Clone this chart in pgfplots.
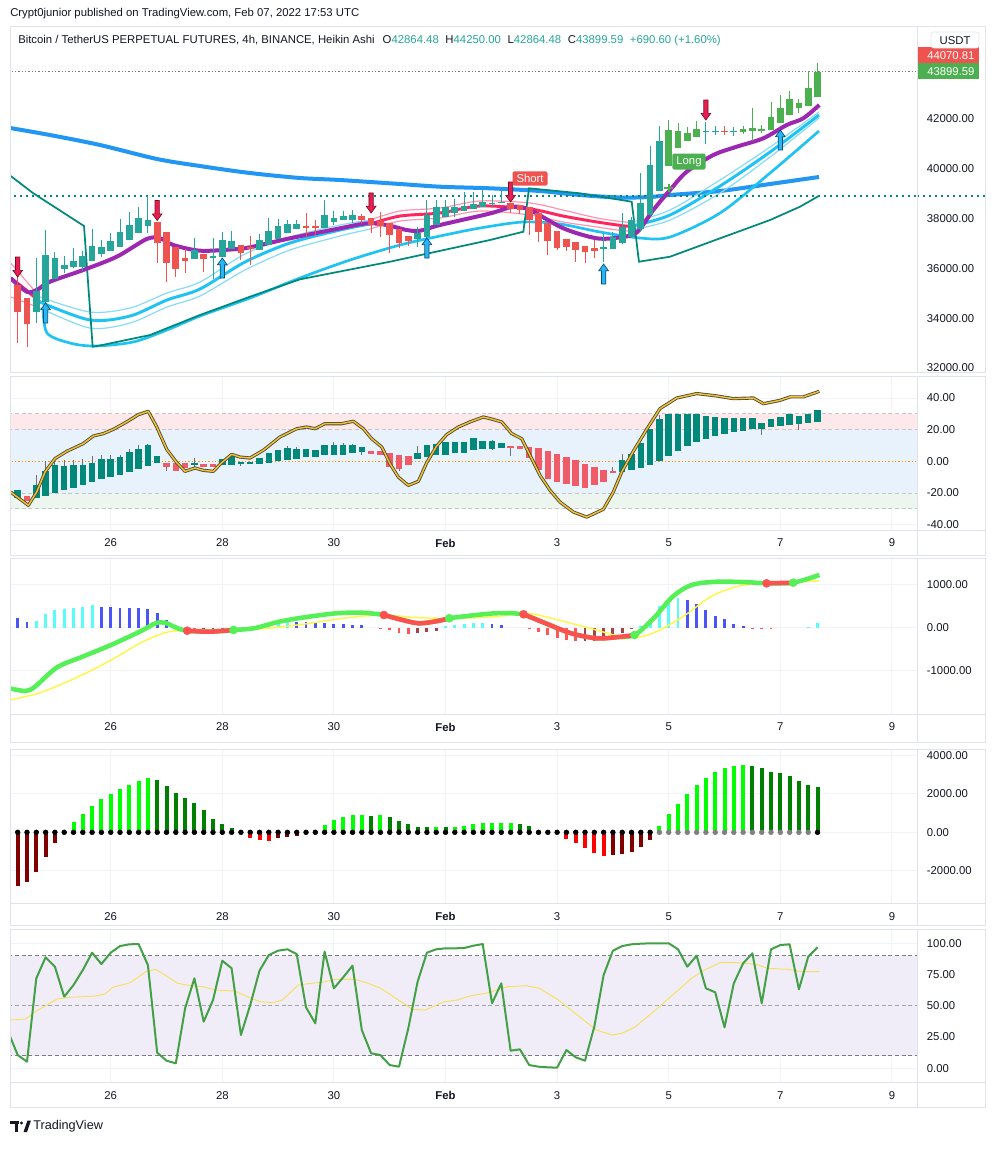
\documentclass[border=0pt]{standalone}
\usepackage{fontspec}
\setmainfont{Liberation Sans}
\usepackage{pgfplots}
\usepackage{pgfplotstable}
\pgfplotsset{compat=1.18}
\usepgfplotslibrary{fillbetween}

\definecolor{cTeal}{HTML}{26A69A}
\definecolor{cGreen}{HTML}{4CAF50}
\definecolor{cRed}{HTML}{EF5350}
\definecolor{cTealD}{HTML}{00897B}
\definecolor{cRedP}{HTML}{EF5B67}
\definecolor{cWick}{HTML}{707070}
\definecolor{cBlue}{HTML}{2196F3}
\definecolor{cPurple}{HTML}{9C27B0}
\definecolor{cCyan}{HTML}{1EC3F3}
\definecolor{cCyanL}{HTML}{86DCF7}
\definecolor{cCyanF}{HTML}{DDF5FD}
\definecolor{cPink}{HTML}{FF2660}
\definecolor{cPinkL}{HTML}{FF94B0}
\definecolor{cPinkF}{HTML}{FFE0E8}
\definecolor{cStep}{HTML}{00897B}
\definecolor{cGrid}{HTML}{F0F3FA}
\definecolor{cBorder}{HTML}{E0E3EB}
\definecolor{cText}{HTML}{131722}
\definecolor{cArrR}{HTML}{E91E50}
\definecolor{cArrRd}{HTML}{7A0A25}
\definecolor{cArrB}{HTML}{29B6F6}
\definecolor{cArrBd}{HTML}{0A4F73}
\definecolor{cBandR}{HTML}{FDE9EA}
\definecolor{cBandB}{HTML}{E7F2FC}
\definecolor{cBandG}{HTML}{EDF6EE}
\definecolor{cDash}{HTML}{C3C6CC}
\definecolor{cOrange}{HTML}{FF9800}
\definecolor{cWave}{HTML}{F2C230}
\definecolor{cWaveD}{HTML}{4D4A3A}
\definecolor{cHBlue}{HTML}{4B55F7}
\definecolor{cHCyan}{HTML}{5CFBFB}
\definecolor{cHRed}{HTML}{FF5656}
\definecolor{cHRedD}{HTML}{A8424A}
\definecolor{cLineG}{HTML}{55F055}
\definecolor{cLineR}{HTML}{FF5050}
\definecolor{cLineY}{HTML}{FFF64A}
\definecolor{cLime}{HTML}{00FF00}
\definecolor{cDGreen}{HTML}{008000}
\definecolor{cBRed}{HTML}{FF0000}
\definecolor{cDRed}{HTML}{800000}
\definecolor{cLav}{HTML}{F1EDF8}
\definecolor{cDashD}{HTML}{787B86}
\definecolor{cSto}{HTML}{43A047}
\definecolor{cStoY}{HTML}{F7DF5A}

\pgfdeclareplotmark{sigdn}{%
  \pgfpathmoveto{\pgfqpoint{-1.6pt}{7.5pt}}%
  \pgfpathlineto{\pgfqpoint{1.6pt}{7.5pt}}%
  \pgfpathlineto{\pgfqpoint{1.6pt}{-2.5pt}}%
  \pgfpathlineto{\pgfqpoint{3.6pt}{-2.5pt}}%
  \pgfpathlineto{\pgfqpoint{0pt}{-7.5pt}}%
  \pgfpathlineto{\pgfqpoint{-3.6pt}{-2.5pt}}%
  \pgfpathlineto{\pgfqpoint{-1.6pt}{-2.5pt}}%
  \pgfpathclose\pgfusepathqfillstroke}
\pgfdeclareplotmark{sigup}{%
  \pgfpathmoveto{\pgfqpoint{-1.6pt}{-7.5pt}}%
  \pgfpathlineto{\pgfqpoint{1.6pt}{-7.5pt}}%
  \pgfpathlineto{\pgfqpoint{1.6pt}{2.5pt}}%
  \pgfpathlineto{\pgfqpoint{3.6pt}{2.5pt}}%
  \pgfpathlineto{\pgfqpoint{0pt}{7.5pt}}%
  \pgfpathlineto{\pgfqpoint{-3.6pt}{2.5pt}}%
  \pgfpathlineto{\pgfqpoint{-1.6pt}{2.5pt}}%
  \pgfpathclose\pgfusepathqfillstroke}

\newcommand\tl{\fontsize{8.5}{10}\selectfont}

\pgfplotsset{
  pane/.style={
    scale only axis, width=679.95pt, anchor=north west,
    xmin=-0.753, xmax=96.73,
    axis line style={draw=none},
    xtick={10,22,34,46,58,70,82,94},
    xticklabels={26,28,30,\textbf{Feb},3,5,7,9},
    grid=major,
    major grid style={draw=cGrid, line width=0.75pt},
    major tick length=0pt,
    scaled ticks=false,
    yticklabel pos=right,
    tick label style={font=\tl, text=cText},
    yticklabel style={anchor=west, inner sep=0pt, xshift=7pt,
      /pgf/number format/fixed, /pgf/number format/fixed zerofill,
      /pgf/number format/precision=2, /pgf/number format/1000 sep={},
      /pgf/number format/assume math mode=true},
    xticklabel style={anchor=north, inner sep=0pt, yshift=-6.5pt},
  },
  candle/.style={only marks, mark=*, mark size=0pt,
    mark options={draw=none, fill=none, draw opacity=0, fill opacity=0},
    forget plot,
    /pgfplots/error bars/y dir=both, /pgfplots/error bars/y explicit,
    /pgfplots/error bars/error mark=none},
}

% main Heikin Ashi candles: i open high low close class(0 red,1 teal,2 green)
\pgfplotstableread{
i o h l c k
0 35330 35670 33020 34260 0
1 34800 34800 32850 33760 0
2 34260 36410 33800 35090 1
3 34660 37540 34460 36540 1
4 35570 36670 35570 36430 1
5 35980 36500 35800 36140 1
6 36070 36810 36000 36300 1
7 36040 36700 35900 36500 1
8 36310 37570 36310 36900 1
9 36580 37140 36450 36850 1
10 36710 37410 36710 37100 1
11 36850 37970 36850 37470 1
12 37140 38280 37140 37740 1
13 37430 38480 37430 38010 1
14 37720 38910 37410 37940 1
15 37860 37860 36230 37010 0
16 37460 37460 35470 36210 0
17 36850 36850 35670 35960 0
18 36410 36770 35800 36310 0
19 36370 37210 36370 36740 1
20 36580 36580 35870 36370 0
21 36450 37210 35560 36500 1
22 36470 37470 36470 37140 1
23 36770 37500 36770 37100 1
24 36940 36940 36340 36610 0
25 36850 37300 36140 36780 0
26 36740 37380 36740 37140 1
27 36940 38010 36940 37500 1
28 37180 37970 37180 37700 1
29 37430 37940 37430 37780 1
30 37570 37940 37570 37780 1
31 37700 38240 37280 37660 0
32 37700 37940 37340 37640 0
33 37640 38750 37640 38150 1
34 37880 38310 37740 38040 1
35 37940 38310 37940 38110 1
36 37940 38350 37840 38150 1
37 38110 38200 37800 37940 0
38 38010 38010 37430 37740 0
39 37900 38280 37250 37720 0
40 37810 37810 36630 37340 0
41 37580 37580 36810 37010 0
42 37300 37300 36910 37110 0
43 37180 37680 36850 37430 1
44 37280 38750 37200 38150 1
45 37740 38750 37740 38450 1
46 38050 38750 38050 38450 1
47 38240 38780 38080 38480 1
48 38320 39080 38320 38510 1
49 38370 39080 38370 38570 1
50 38480 39220 38480 38680 1
51 38590 38950 38450 38640 1
52 38620 39100 38620 38680 1
53 38610 38610 38210 38370 0
54 38550 38550 38200 38350 0
55 38480 38480 37340 37940 0
56 38210 38210 37070 37470 0
57 37810 37810 36540 37110 0
58 37520 37520 36740 36810 0
59 37180 37180 36700 36850 0
60 37070 37070 36270 36740 0
61 36900 36900 36230 36670 0
62 36810 37140 36410 36710 0
63 36770 37380 36270 36850 1
64 36770 37470 36770 37250 1
65 37030 38210 37000 37680 1
66 37270 38080 37270 37940 1
67 37570 39820 37470 38640 1
68 38150 40920 38150 40150 1
69 39120 41720 39120 41120 1
70 40110 41960 40110 41560 2
71 40820 41830 40820 41520 2
72 41130 41670 41130 41430 2
73 41290 41920 41290 41590 2
74 41480 41890 41000 41520 1
75 41480 41720 41360 41520 1
76 41530 41720 41360 41480 0
77 41480 41670 41330 41520 1
78 41490 41720 41410 41600 2
79 41530 42430 41130 41630 2
80 41520 41760 41450 41590 2
81 41560 42680 41560 42070 2
82 41830 42960 41830 42430 2
83 42150 43120 42150 42790 2
84 42450 42790 42250 42630 2
85 42530 43930 42530 43230 2
86 42864.48 44250 42864.48 43899.59 2
}\mainC

% oscillator candles (pane 2): i open close high low class(0 red,1 teal)
\pgfplotstableread{
i o c h l k
0 -23 -18 -18 -23 1
1 -22 -25.3 -22 -25.3 0
2 -23 -15 -8.4 -23 1
3 -22 -6 0 -22 1
4 -20 -2 1 -20 1
5 -18 -3 0.6 -18 1
6 -17 -2.5 0.6 -17 1
7 -14.7 -2.1 1.7 -14.7 1
8 -13 -0.8 3.4 -13 1
9 -11.4 1.3 3.8 -11.4 1
10 -9.9 1.3 4.2 -9.9 1
11 -8.4 2.7 4.2 -8.4 1
12 -6.7 5.9 8 -6.7 1
13 -5.1 8 10.1 -5.1 1
14 -2.9 10.1 11.2 -2.9 1
15 -0.8 3.4 3.4 -0.8 1
16 -0.8 -3.6 -0.8 -6.3 0
17 -0.8 -6.1 -0.8 -6.1 0
18 -1.3 -4.2 -1.3 -4.2 0
19 -2.1 -1.3 2 -3.5 1
20 -1.9 -3.6 -1.9 -3.6 0
21 -1.9 -3.6 -1.9 -3.6 0
22 -2.5 1.7 1.7 -2.5 1
23 -2.1 3.8 3.8 -2.1 1
24 -1.5 -0.4 -0.4 -3 1
25 -1.9 -0.4 -0.4 -1.9 1
26 -1.7 2.1 2.1 -1.7 1
27 -0.8 5.5 5.5 -0.8 1
28 0 7 7 0 1
29 0.6 8.4 9.5 0.6 1
30 1.7 8 9 1.7 1
31 2.7 7.6 7.6 2.7 1
32 2.7 7 7 2.7 1
33 3.8 10.1 10.5 3.8 1
34 3.8 10.1 12.2 3.8 1
35 4.2 10.1 11.8 4.2 1
36 5.5 10.1 11 5.5 1
37 5.9 9.1 9.1 3.8 1
38 6.3 4.8 6.3 4.8 0
39 6.3 3.8 6.3 3.8 0
40 5.5 -3.6 5.5 -3.6 0
41 4.2 -5.1 4.2 -6.3 0
42 3.4 -2.1 3.4 -2.1 0
43 1.7 5.5 9.7 1.7 1
44 2.7 10.1 10.1 2.7 1
45 3.8 11.2 11.2 3.8 1
46 4.2 12.2 12.2 4.2 1
47 5.5 12.2 12.2 5.5 1
48 5.5 12.2 12.2 5.5 1
49 7 14.7 14.7 7 1
50 8 12.6 12.6 8 1
51 8 12.6 13.5 7 1
52 8.4 11.8 11.8 8.4 1
53 9.7 8.6 9.7 3.6 0
54 9.7 7.6 9.7 7.6 0
55 9.1 2.1 9.1 2.1 0
56 8.4 -5.7 8.4 -5.7 0
57 6.3 -11 6.3 -11 0
58 4.4 -13 4.4 -13 0
59 2.5 -14.1 2.5 -14.1 0
60 0.6 -15.6 0.6 -15.6 0
61 -1.9 -16.9 -1.9 -16.9 0
62 -3.6 -15.2 -3.6 -15.2 0
63 -5.3 -13 -5.3 -13 0
64 -5.9 -7.4 -3.5 -7.4 0
65 -6.7 0.6 4.8 -6.7 1
66 -5.7 4.4 4.4 -5.7 1
67 -4.2 11.6 11.6 -4.2 1
68 -2.5 20.2 20.2 -2.5 1
69 0 26.5 29 0 1
70 3.2 29.7 29.7 3.2 1
71 6.3 29.7 29.7 6.3 1
72 9.5 29.7 29.7 9.5 1
73 12.2 29.7 30 12.2 1
74 13.9 28.6 28.6 13.9 1
75 15.8 28 28 15.8 1
76 17.1 27.4 27.4 17.1 1
77 18.5 27.4 27.4 18.5 1
78 19.2 27.4 27.4 19.2 1
79 20.2 27.4 27.4 20.2 1
80 20.6 24.4 24.4 16.4 1
81 21.7 26.5 26.5 21.7 1
82 22.3 28 28 22.3 1
83 23.2 30.1 30.1 23.2 1
84 23.8 28.4 28.4 19.6 1
85 24.4 29.7 29.7 24.4 1
86 24.9 32.2 32.2 24.9 1
}\pTwo

% histogram pane 3: i value class(0 blue,1 cyan,2 red,3 dark red)
\pgfplotstableread{
i v k
0 233 0
1 122 0
2 155 1
3 310 1
4 410 1
5 426 1
6 465 1
7 488 1
8 527 1
9 488 0
10 488 0
11 465 0
12 465 0
13 450 0
14 434 0
15 349 0
16 178 0
17 62 0
18 -60 2
19 -80 2
20 -70 3
21 -60 3
22 -30 3
27 40 1
28 160 1
29 155 1
30 140 0
31 130 0
32 120 0
33 110 0
34 90 0
35 80 0
36 70 0
37 60 0
39 -20 2
40 -60 2
41 -120 2
42 -150 2
43 -130 3
44 -100 3
45 -80 3
46 50 1
47 70 1
48 90 1
49 100 1
50 110 1
51 80 0
52 60 0
55 -30 2
56 -100 2
57 -180 2
58 -250 2
59 -280 2
60 -300 2
61 -320 3
62 -300 3
63 -270 3
64 -220 3
65 -120 3
66 -40 3
67 30 1
68 200 1
69 500 1
70 650 1
71 680 1
72 640 0
73 560 0
74 420 0
75 280 0
76 200 0
77 80 0
78 30 0
79 -20 2
80 -20 2
81 -20 2
85 20 1
86 120 1
}\pThree

% pane 4: i value class(0 lime,1 dark green,2 red,3 dark red) dot(0 black,1 gray)
\pgfplotstableread{
i v k d
-0.9 -3034 3 0
0 -2774 3 0
1 -2566 3 0
2 -2047 3 0
3 -1299 3 0
4 -572 3 0
5 0 0 0
6 553 0 0
7 951 0 0
8 1367 0 0
9 1731 0 0
10 1991 0 0
11 2250 0 0
12 2458 0 0
13 2683 0 0
14 2821 0 0
15 2718 1 0
16 2406 1 0
17 2060 1 0
18 1766 1 0
19 1541 1 0
20 1160 1 0
21 692 1 0
22 432 1 0
23 208 1 0
24 0 1 0
25 -277 2 0
26 -398 2 0
27 -433 2 0
28 -312 3 0
29 -260 3 0
30 -190 3 0
31 0 0 0
32 121 0 0
33 381 0 0
34 641 0 0
35 814 0 0
36 900 0 0
37 925 0 0
38 860 1 0
39 910 0 0
40 780 1 0
41 606 1 0
42 433 1 0
43 300 1 0
44 290 1 0
45 295 0 0
46 260 1 0
47 295 0 0
48 346 0 0
49 415 0 0
50 467 0 0
51 470 0 0
52 502 0 0
53 505 0 0
54 433 1 0
55 329 1 0
56 0 1 0
57 0 1 0
58 -87 2 0
59 -346 2 0
60 -537 2 0
61 -796 2 0
62 -1056 2 0
63 -1212 2 0
64 -1200 3 0
65 -1143 3 0
66 -1004 3 0
67 -745 3 0
68 -398 3 0
69 329 0 1
70 951 0 1
71 1471 0 1
72 1991 0 1
73 2458 0 1
74 2804 0 1
75 3116 0 1
76 3324 0 1
77 3462 0 1
78 3497 0 1
79 3462 1 1
80 3324 1 1
81 3151 1 1
82 3064 1 1
83 2925 1 1
84 2683 1 1
85 2458 1 1
86 2337 1 0
}\pFour

\begin{document}
\begin{tikzpicture}
\fill[white] (0pt,0pt) rectangle (744pt,-870pt);

%================ MAIN PANE =================
\begin{axis}[pane, at={(8.025pt,-19.5pt)}, height=259.5pt,
  ymin=31840, ymax=45735, ytick={32000,34000,36000,38000,40000,42000},
  xticklabels={}, clip mode=individual]
% blue long MA
\addplot[cBlue, line width=3pt, smooth] coordinates {(-0.83,41639)(3.47,41357)(8.85,40956)(14.98,40394)(19.6,40112)(24.98,39831)(30.35,39631)(34.65,39550)(41.1,39390)(45.4,39281)(50.78,39217)(56.16,39108)(60.46,38948)(64.76,38847)(67.99,38868)(70.14,38948)(75.52,39108)(80.9,39390)(86.16,39671)};
% lower cyan line
\addplot[cCyan, line width=2pt, smooth] coordinates {(2.72,34450)(3.15,33406)(5.62,33004)(8.31,32884)(12.4,33044)(16.05,33526)(19.6,34088)(24.98,34811)(30.35,35614)(35.73,36337)(41.1,36940)(45.41,37301)(49.71,37622)(54.34,37864)(58.31,37783)(62.61,37462)(66.91,37221)(70.14,37261)(75.52,38225)(80.9,39831)(86.16,41518)};
% ribbon left (red)
\addplot[name path=rT0, cPinkL, line width=0.9pt] coordinates {(-0.75,36217)(2.4,34851)};
\addplot[name path=rB0, cPinkL, line width=0.9pt] coordinates {(-0.75,34852)(2.4,34410)};
\addplot[cPinkF] fill between[of=rT0 and rB0];
\addplot[cPink, line width=2.2pt, smooth] coordinates {(-0.75,35615)(0.78,35173)(2.4,34651)};
% ribbon cyan mid
\addplot[name path=cT1, cCyanL, line width=0.9pt, smooth] coordinates {(2.4,34851)(7.77,34249)(12.08,34410)(16.05,35012)(19.6,35454)(24.44,36578)(29.28,37261)(34.66,37743)(37.88,37944)};
\addplot[name path=cB1, cCyanL, line width=0.9pt, smooth] coordinates {(2.4,34410)(7.77,33606)(12.08,33807)(16.05,34450)(19.6,34892)(24.44,35936)(29.28,36739)(34.66,37301)(37.88,37582)};
\addplot[cCyanF] fill between[of=cT1 and cB1];
\addplot[cCyan, line width=2.2pt, smooth] coordinates {(2.4,34651)(7.77,33928)(12.08,34088)(16.05,34731)(19.6,35173)(24.44,36257)(29.28,37020)(34.66,37542)(37.88,37783)};
% ribbon red mid
\addplot[name path=rT1, cPinkL, line width=0.9pt, smooth] coordinates {(37.88,37944)(41.11,38305)(45.4,38426)(49.71,38707)(55.09,38626)(58.63,38345)(62.29,38024)(65.3,37864)(66.05,37864)};
\addplot[name path=rB1, cPinkL, line width=0.9pt, smooth] coordinates {(37.88,37582)(41.11,37904)(45.4,38024)(49.71,38305)(55.09,38145)(58.63,37864)(62.29,37663)(65.3,37502)(66.05,37542)};
\addplot[cPinkF] fill between[of=rT1 and rB1];
\addplot[cPink, line width=2.2pt, smooth] coordinates {(37.88,37783)(41.11,38104)(45.4,38225)(49.71,38506)(55.09,38386)(58.63,38104)(62.29,37864)(65.3,37703)(66.05,37703)};
% ribbon cyan right
\addplot[name path=cT2, cCyanL, line width=0.9pt, smooth] coordinates {(66.05,37864)(70.14,38345)(75.52,39550)(80.9,40876)(86.16,42281)};
\addplot[name path=cB2, cCyanL, line width=0.9pt, smooth] coordinates {(66.05,37542)(70.14,37944)(75.52,39028)(80.9,40474)(86.16,42040)};
\addplot[cCyanF] fill between[of=cT2 and cB2];
\addplot[cCyan, line width=2.2pt, smooth] coordinates {(66.05,37703)(70.14,38145)(75.52,39309)(80.9,40675)(86.16,42161)};
% trailing step line
\addplot[cStep, line width=1.3pt] coordinates {(-0.75,39711)(1.68,39016)(7.13,37703)(8.06,32856)(8.85,32904)(14.23,33325)(19.6,34129)(24.98,34864)(30.35,35562)(40.03,36269)(50.78,37141)(54.37,37474)(54.98,39217)(60.46,39016)(66.02,38679)(66.8,36269)(70.14,36470)(75.52,37209)(80.9,37944)(84.12,38478)(86.13,38908)};
% purple MA
\addplot[cPurple, line width=3pt, smooth] coordinates {(-0.75,35603)(0.97,35064)(2.04,35133)(3.47,35466)(7.05,35936)(10.65,36470)(13.87,37181)(15.3,37209)(16.73,36940)(19.6,36711)(23.18,36767)(24.98,36848)(29.28,37209)(34.65,37610)(37.53,37811)(39.68,37743)(41.83,37542)(43.26,37514)(45.41,37743)(50.78,38205)(53.29,38478)(55.09,38346)(58.67,37610)(62.26,37209)(64.76,37249)(66.56,37442)(68.34,38345)(70.14,39149)(71.94,39884)(74.8,40554)(77.31,40888)(80.17,41225)(82.69,41759)(84.47,42028)(86.19,42562)};
% horizontal dotted levels
\addplot[cStep, line width=1.5pt, dash pattern=on 1.5pt off 3pt] coordinates {(-1,38920)(97,38920)};
\addplot[cDashD, line width=0.6pt, dash pattern=on 1pt off 1.5pt] coordinates {(-1,43899.59)(97,43899.59)};
% candles: wicks then bodies
\addplot[candle, /pgfplots/error bars/error bar style={line width=0.75pt, draw=cRed}, restrict expr to domain={\thisrow{k}}{0:0}] table[x=i, y expr={(\thisrow{h}+\thisrow{l})/2}, y error expr={(\thisrow{h}-\thisrow{l})/2}] {\mainC};
\addplot[candle, /pgfplots/error bars/error bar style={line width=0.75pt, draw=cTeal}, restrict expr to domain={\thisrow{k}}{1:1}] table[x=i, y expr={(\thisrow{h}+\thisrow{l})/2}, y error expr={(\thisrow{h}-\thisrow{l})/2}] {\mainC};
\addplot[candle, /pgfplots/error bars/error bar style={line width=0.75pt, draw=cGreen}, restrict expr to domain={\thisrow{k}}{2:2}] table[x=i, y expr={(\thisrow{h}+\thisrow{l})/2}, y error expr={(\thisrow{h}-\thisrow{l})/2}] {\mainC};
\addplot[candle, /pgfplots/error bars/error bar style={line width=5pt, draw=cRed}, restrict expr to domain={\thisrow{k}}{0:0}] table[x=i, y expr={(\thisrow{o}+\thisrow{c})/2}, y error expr={max(abs(\thisrow{c}-\thisrow{o})/2,30)}] {\mainC};
\addplot[candle, /pgfplots/error bars/error bar style={line width=5pt, draw=cTeal}, restrict expr to domain={\thisrow{k}}{1:1}] table[x=i, y expr={(\thisrow{o}+\thisrow{c})/2}, y error expr={max(abs(\thisrow{c}-\thisrow{o})/2,30)}] {\mainC};
\addplot[candle, /pgfplots/error bars/error bar style={line width=5pt, draw=cGreen}, restrict expr to domain={\thisrow{k}}{2:2}] table[x=i, y expr={(\thisrow{o}+\thisrow{c})/2}, y error expr={max(abs(\thisrow{c}-\thisrow{o})/2,30)}] {\mainC};
% signals
\addplot[only marks, mark=sigdn, mark options={fill=cArrR, draw=cArrRd, line width=0.5pt}] coordinates {(0,36056)(15,38325)(38,38627)(53,39068)(74,42361)};
\addplot[only marks, mark=sigup, mark options={fill=cArrB, draw=cArrBd, line width=0.5pt}] coordinates {(3,34209)(22,36016)(44,36819)(63,35775)(82,41157)};
\addplot[only marks, mark=+, mark size=3.2pt, mark options={line width=1.8pt, draw=cGreen}] coordinates {(70,39229)};
\node[fill=cRed, text=white, rounded corners=1.5pt, inner xsep=3pt, inner ysep=2.2pt, font=\tl] at (axis cs:55.09,39610) {Short};
\node[fill=cGreen, text=white, rounded corners=1.5pt, inner xsep=3pt, inner ysep=2.2pt, font=\tl] at (axis cs:72.18,40293) {Long};
\end{axis}

%================ PANE 2 =================
\begin{axis}[pane, at={(8.025pt,-282.75pt)}, height=114.75pt,
  ymin=-43.37, ymax=53.26, ytick={-40,-20,0,20,40}]
\addplot[draw=none, fill=cBandR, forget plot] coordinates {(-1,20)(97,20)(97,30)(-1,30)} -- cycle;
\addplot[draw=none, fill=cBandB, forget plot] coordinates {(-1,-20)(97,-20)(97,20)(-1,20)} -- cycle;
\addplot[draw=none, fill=cBandG, forget plot] coordinates {(-1,-30)(97,-30)(97,-20)(-1,-20)} -- cycle;
\addplot[cDash, line width=0.75pt, dash pattern=on 3pt off 2pt] coordinates {(-1,30)(97,30)};
\addplot[cDash, line width=0.75pt, dash pattern=on 3pt off 2pt] coordinates {(-1,20)(97,20)};
\addplot[cDash, line width=0.75pt, dash pattern=on 3pt off 2pt] coordinates {(-1,-20)(97,-20)};
\addplot[cDash, line width=0.75pt, dash pattern=on 3pt off 2pt] coordinates {(-1,-30)(97,-30)};
\addplot[cOrange, line width=0.75pt, dash pattern=on 1pt off 1.5pt] coordinates {(-1,0)(97,0)};
\addplot[candle, /pgfplots/error bars/error bar style={line width=0.75pt, draw=cWick}] table[x=i, y expr={(\thisrow{h}+\thisrow{l})/2}, y error expr={(\thisrow{h}-\thisrow{l})/2}] {\pTwo};
\addplot[candle, /pgfplots/error bars/error bar style={line width=4.9pt, draw=cRedP}, restrict expr to domain={\thisrow{k}}{0:0}] table[x=i, y expr={(\thisrow{o}+\thisrow{c})/2}, y error expr={max(abs(\thisrow{c}-\thisrow{o})/2,0.5)}] {\pTwo};
\addplot[candle, /pgfplots/error bars/error bar style={line width=4.9pt, draw=cTealD}, restrict expr to domain={\thisrow{k}}{1:1}] table[x=i, y expr={(\thisrow{o}+\thisrow{c})/2}, y error expr={max(abs(\thisrow{c}-\thisrow{o})/2,0.5)}] {\pTwo};
\addplot[cWaveD, line width=2.4pt, line join=round] coordinates {(-0.75,-19.4)(1.14,-27.8)(2.04,-19.4)(2.94,-6.7)(4.01,1.7)(5.27,6.3)(7.05,11.2)(8.13,16)(9.2,17.5)(10.28,20.2)(11.72,24.9)(12.97,29.5)(14.04,31.6)(14.95,21.7)(16.02,7.6)(17.1,-0.8)(17.99,-6.3)(19.06,-4.2)(19.96,-5.7)(21.03,-6.3)(21.94,-0.8)(23.01,4.4)(23.9,2.7)(24.98,2.1)(26.41,7)(28.2,15.4)(30,20.6)(31.08,21.7)(31.97,20.6)(33.04,23.8)(34.84,23.8)(36.09,25.3)(37.16,20.6)(38.06,14.3)(39.14,9.1)(40.03,-1.5)(40.92,-9.9)(42,-15.2)(43.08,-12.6)(43.98,-0.8)(45.05,9.7)(46.13,16.9)(47.38,21.7)(48.63,24.9)(50.06,28)(50.78,27)(52.04,24.9)(53.12,17.5)(54.19,14.3)(55.09,3.8)(56.16,-8.8)(57.24,-18.3)(58.31,-25.7)(59.74,-32)(61.18,-35.2)(62.97,-30.3)(64.04,-19.4)(64.95,-6.7)(66.19,6.3)(67.63,20.2)(69.06,33.3)(70.86,40)(73.01,42.8)(75.16,41.3)(76.95,39.6)(79.1,40)(80.18,36.4)(81.96,38.5)(83.04,40.7)(84.47,40.7)(86.19,44.2)};
\addplot[cWave, line width=1.1pt, line join=round] coordinates {(-0.75,-19.4)(1.14,-27.8)(2.04,-19.4)(2.94,-6.7)(4.01,1.7)(5.27,6.3)(7.05,11.2)(8.13,16)(9.2,17.5)(10.28,20.2)(11.72,24.9)(12.97,29.5)(14.04,31.6)(14.95,21.7)(16.02,7.6)(17.1,-0.8)(17.99,-6.3)(19.06,-4.2)(19.96,-5.7)(21.03,-6.3)(21.94,-0.8)(23.01,4.4)(23.9,2.7)(24.98,2.1)(26.41,7)(28.2,15.4)(30,20.6)(31.08,21.7)(31.97,20.6)(33.04,23.8)(34.84,23.8)(36.09,25.3)(37.16,20.6)(38.06,14.3)(39.14,9.1)(40.03,-1.5)(40.92,-9.9)(42,-15.2)(43.08,-12.6)(43.98,-0.8)(45.05,9.7)(46.13,16.9)(47.38,21.7)(48.63,24.9)(50.06,28)(50.78,27)(52.04,24.9)(53.12,17.5)(54.19,14.3)(55.09,3.8)(56.16,-8.8)(57.24,-18.3)(58.31,-25.7)(59.74,-32)(61.18,-35.2)(62.97,-30.3)(64.04,-19.4)(64.95,-6.7)(66.19,6.3)(67.63,20.2)(69.06,33.3)(70.86,40)(73.01,42.8)(75.16,41.3)(76.95,39.6)(79.1,40)(80.18,36.4)(81.96,38.5)(83.04,40.7)(84.47,40.7)(86.19,44.2)};
\end{axis}

%================ PANE 3 =================
\begin{axis}[pane, at={(8.025pt,-418.5pt)}, height=117pt,
  ymin=-2007, ymax=1621, ytick={-1000,0,1000}]
\addplot[ycomb, mark=none, line width=2.2pt, cHBlue, restrict expr to domain={\thisrow{k}}{0:0}] table[x=i, y=v] {\pThree};
\addplot[ycomb, mark=none, line width=2.2pt, cHCyan, restrict expr to domain={\thisrow{k}}{1:1}] table[x=i, y=v] {\pThree};
\addplot[ycomb, mark=none, line width=2.2pt, cHRed, restrict expr to domain={\thisrow{k}}{2:2}] table[x=i, y=v] {\pThree};
\addplot[ycomb, mark=none, line width=2.2pt, cHRedD, restrict expr to domain={\thisrow{k}}{3:3}] table[x=i, y=v] {\pThree};
\addplot[cLineY, line width=1.1pt, smooth] coordinates {(-0.88,-1681)(2.18,-1527)(4.92,-1295)(7.65,-1023)(10.38,-713)(13.11,-364)(15.84,-116)(18.57,-54)(22.66,-54)(26.75,-15)(30.85,85)(34.94,218)(39.03,295)(43.13,233)(47.23,218)(51.31,256)(54.73,335)(58.14,179)(61.55,-15)(64.96,-209)(67.01,-209)(69.05,-54)(71.78,295)(74.52,721)(77.25,953)(79.97,1032)(83.38,1070)(86.2,1086)};
\addplot[cLineG, line width=3.4pt, smooth] coordinates {(-0.88,-1409)(0.83,-1472)(1.85,-1372)(4.24,-921)(6.97,-674)(10.03,-402)(13.11,-93)(14.82,102)(15.84,116)(17.2,-14)(18.23,-70)(20.61,-93)(23.2,-53)(25.39,-14)(28.12,140)(30.85,242)(34.26,335)(36.99,349)(39.38,295)(41.08,195)(43.13,102)(45.17,156)(46.4,219)(48.58,279)(51.31,335)(53.37,335)(54.39,312)(56.77,102)(59.51,-130)(62.23,-247)(64.28,-223)(66.32,-170)(68.38,219)(70.42,721)(72.46,993)(75.19,1070)(78.6,1056)(80.52,1032)(83.38,1047)(86.2,1226)};
\addplot[cLineR, line width=3.4pt, smooth] coordinates {(18.23,-70)(20.61,-93)(23.2,-53)};
\addplot[cLineR, line width=3.4pt, smooth] coordinates {(39.38,295)(41.08,195)(43.13,102)(45.17,156)(46.4,219)};
\addplot[cLineR, line width=3.4pt, smooth] coordinates {(54.39,312)(56.77,102)(59.51,-130)(62.23,-247)(64.28,-223)(66.32,-170)};
\addplot[cLineR, line width=3.4pt, smooth] coordinates {(80.52,1032)(83.38,1047)};
\addplot[only marks, mark=*, mark size=3pt, color=cLineR] coordinates {(18.23,-70)(39.38,295)(54.39,312)(80.52,1032)};
\addplot[only marks, mark=*, mark size=3pt, color=cLineG] coordinates {(23.2,-53)(46.4,219)(66.32,-170)(83.38,1047)};
\end{axis}

%================ PANE 4 =================
\begin{axis}[pane, at={(8.025pt,-561.975pt)}, height=115.5pt,
  ymin=-3688, ymax=4312, ytick={-2000,0,2000,4000}]
\addplot[ycomb, mark=none, line width=3pt, cLime, restrict expr to domain={\thisrow{k}}{0:0}] table[x=i, y=v] {\pFour};
\addplot[ycomb, mark=none, line width=3pt, cDGreen, restrict expr to domain={\thisrow{k}}{1:1}] table[x=i, y=v] {\pFour};
\addplot[ycomb, mark=none, line width=3pt, cBRed, restrict expr to domain={\thisrow{k}}{2:2}] table[x=i, y=v] {\pFour};
\addplot[ycomb, mark=none, line width=3pt, cDRed, restrict expr to domain={\thisrow{k}}{3:3}] table[x=i, y=v] {\pFour};
\addplot[only marks, mark=*, mark size=1.8pt, color=black, restrict expr to domain={\thisrow{d}}{0:0}] table[x=i, y expr=0] {\pFour};
\addplot[only marks, mark=*, mark size=1.8pt, color=gray, restrict expr to domain={\thisrow{d}}{1:1}] table[x=i, y expr=0] {\pFour};
\end{axis}

%================ PANE 5 =================
\begin{axis}[pane, at={(8.025pt,-696.975pt)}, height=114.75pt,
  ymin=-11.2, ymax=111.2, ytick={0,25,50,75,100}]
\addplot[draw=none, fill=cLav, forget plot] coordinates {(-1,10)(97,10)(97,90)(-1,90)} -- cycle;
\addplot[cDashD, line width=0.75pt, dash pattern=on 3pt off 2pt] coordinates {(-1,90)(97,90)};
\addplot[cDashD!70, line width=0.75pt, dash pattern=on 3pt off 2pt] coordinates {(-1,50)(97,50)};
\addplot[cDashD, line width=0.75pt, dash pattern=on 3pt off 2pt] coordinates {(-1,10)(97,10)};
\addplot[cStoY, line width=0.7pt] coordinates {(-0.88,38.6)(0.83,39.4)(2.18,46.6)(4.24,55.4)(5.6,56.8)(8.33,57.8)(9.35,59.4)(10.24,64.8)(12.09,68.5)(13.78,77.3)(14.82,79.2)(15.84,74.6)(17.2,68)(18.57,66.1)(19.92,65.3)(21.29,62.6)(23.34,61.8)(24.71,57.3)(26.08,53.3)(27.43,52.5)(28.46,54.6)(30.16,66.6)(31.53,68)(32.89,69)(34.26,71.2)(36.3,71.2)(37.67,68)(39.03,64)(40.4,57.3)(42.44,47.2)(43.81,46.6)(45.86,53.3)(47.23,54.6)(48.58,57.8)(50.63,60.5)(52.68,65.3)(54.72,66.1)(56.09,64)(58.14,54.6)(60.18,42.6)(62.23,30.6)(63.94,26.6)(64.96,28)(66.32,32.8)(68.38,45.3)(70.42,58.6)(72.46,72)(73.83,78.6)(75.54,84.5)(77.25,84.5)(79.29,83.4)(80.66,80)(82.7,79.2)(84.41,77.3)(86.2,77.3)};
\addplot[cSto, line width=1.5pt, line join=round] coordinates {(-0.88,26.6)(0,10.6)(1,5.3)(2,72)(3,88.8)(4,81.3)(5,57.3)(6,66.6)(7,78.6)(8,92.5)(9,83.4)(10,92.5)(11,97.8)(12,99.2)(13,99.4)(14,82.6)(15,12.5)(16,6.1)(17,4)(18,48)(19,72)(20,37.3)(21,54.6)(22,86.1)(23,80)(24,26.6)(25,50.6)(26,78.1)(27,90.6)(28,94.1)(29,95.2)(30,91.4)(31,48.8)(32,36)(33,93.3)(34,64)(35,72.8)(36,82.1)(37,30.6)(38,12)(39,10.6)(40,2.6)(41,1.3)(42,32)(43,69.3)(44,92.5)(45,95.2)(46,96)(47,96)(48,96.2)(49,98.1)(50,99.4)(51,52)(52,68)(53,14.1)(54,15.2)(55,2.6)(56,1.3)(57,0.8)(58,0.5)(59,14.6)(60,8.8)(61,6.1)(62,33.3)(63,74.6)(64,94.1)(65,97.8)(66,99.2)(67,99.7)(68,100)(69,100)(70,100)(71,95.2)(72,81.3)(73,90.1)(74,64)(75,60.8)(76,32.8)(77,68)(78,84)(79,92)(80,52)(81,95.2)(82,98.6)(83,99.2)(84,63.2)(85,89.3)(86,96.8)};
\end{axis}

%================ FRAME, HEADER, TAGS =================
\begin{scope}[x=0.75pt, y=-0.75pt]
\draw[cStep, line width=1.5pt, dash pattern=on 1.5pt off 3pt] (917.3,195.7) -- (985,195.7);
\begin{scope}[cBorder, line width=0.75pt]
\draw (10.7,26) rectangle (985,372.5);
\draw (917.3,26) -- (917.3,372.5);
\draw (10.7,376.7) rectangle (985,555);
\draw (917.3,376.7) -- (917.3,555);
\draw (10.7,530) -- (985,530);
\draw (10.7,558) rectangle (985,742);
\draw (917.3,558) -- (917.3,742);
\draw (10.7,714) -- (985,714);
\draw (10.7,749.3) rectangle (985,925);
\draw (917.3,749.3) -- (917.3,925);
\draw (10.7,903.3) -- (985,903.3);
\draw (10.7,929.3) rectangle (985,1107);
\draw (917.3,929.3) -- (917.3,1107);
\draw (10.7,1082.3) -- (985,1082.3);
\end{scope}
\node[anchor=west, inner sep=0pt, font=\tl, text=cText] at (10,14) {Crypt0junior published on TradingView.com, Feb 07, 2022 17:53 UTC};
\node[anchor=west, inner sep=0pt, font=\tl, text=cText] at (18,41) {Bitcoin / TetherUS PERPETUAL FUTURES, 4h, BINANCE, Heikin Ashi\hspace{6pt}O\textcolor{cTeal}{42864.48}\hspace{5pt}H\textcolor{cTeal}{44250.00}\hspace{5pt}L\textcolor{cTeal}{42864.48}\hspace{5pt}C\textcolor{cTeal}{43899.59}\hspace{5pt}\textcolor{cTeal}{+690.60 (+1.60\%)}};
\fill[cRed] (918,47) rectangle (979,63);
\node[anchor=west, inner sep=0pt, font=\tl, text=white] at (927,55.5) {44070.81};
\fill[cGreen] (918,63) rectangle (979,79);
\node[anchor=west, inner sep=0pt, font=\tl, text=white] at (927,71.5) {43899.59};
\draw[cBorder, fill=white, rounded corners=2pt] (931,32) rectangle (979,48);
\node[inner sep=0pt, font=\tl, text=cText] at (955,40.5) {USDT};
% footer logo
\fill[cText] (10,1120.5) rectangle (19,1124);
\fill[cText] (14.5,1120.5) rectangle (18,1132);
\fill[cText] (21.5,1123) circle (1.7);
\fill[cText] (23.5,1132) -- (27.5,1120.5) -- (31,1120.5) -- (27,1132) -- cycle;
\node[anchor=west, inner sep=0pt, font=\fontsize{9.5}{11}\selectfont, text=cText] at (33,1126.5) {TradingView};
\end{scope}
\end{tikzpicture}
\end{document}
